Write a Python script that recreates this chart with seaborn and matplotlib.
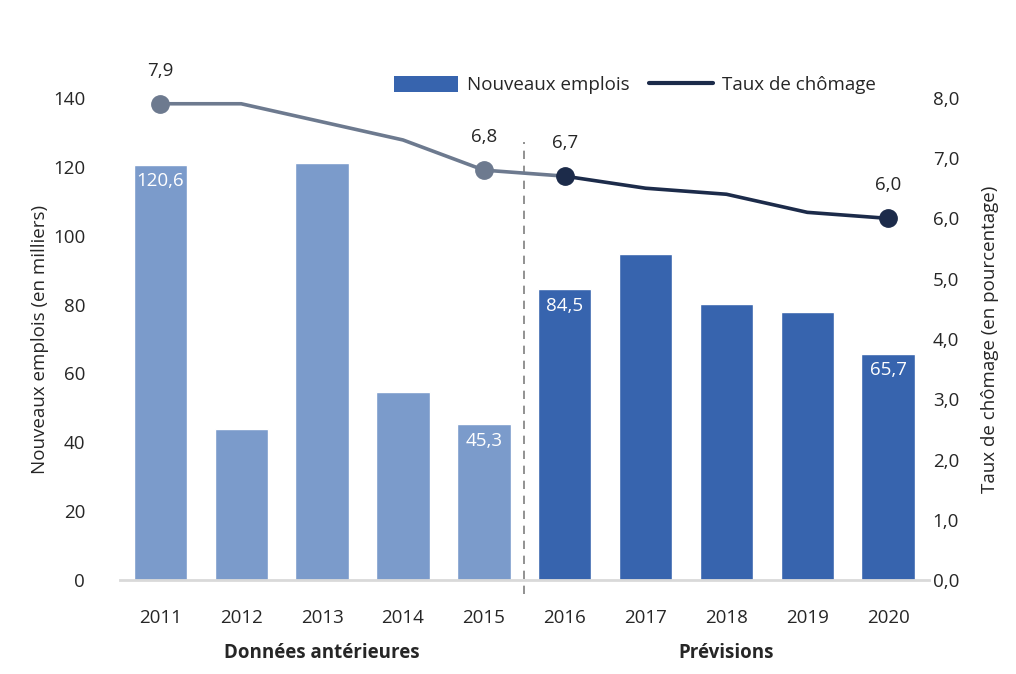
import numpy as np
import pandas as pd
import matplotlib
matplotlib.use("Agg")
import matplotlib.pyplot as plt
from matplotlib.patches import Patch
from matplotlib.lines import Line2D
import seaborn as sns

# Data
annees = ["2011", "2012", "2013", "2014", "2015", "2016", "2017", "2018", "2019", "2020"]
emplois = [120.6, 44.0, 121.2, 54.6, 45.3, 84.5, 94.6, 80.2, 77.8, 65.7]
taux = [7.9, 7.9, 7.6, 7.3, 6.8, 6.7, 6.5, 6.4, 6.1, 6.0]
periode = ["hist"] * 5 + ["prev"] * 5
bar_labels_idx = [0, 4, 5, 9]
line_labels_idx = [0, 4, 5, 9]

c_hist_bar = "#7B9BCB"
c_prev_bar = "#3764AE"
c_hist_line = "#6D7A8F"
c_prev_line = "#1C2B4A"

sns.set_style("white")
plt.rcParams["font.family"] = ["Open Sans", "DejaVu Sans"]

df = pd.DataFrame({"annee": annees, "emplois": emplois, "periode": periode})

fig = plt.figure(figsize=(10.16, 6.74), dpi=100)
ax = fig.add_axes([0.118, 0.139, 0.796, 0.716])

sns.barplot(data=df, x="annee", y="emplois", hue="periode",
            palette={"hist": c_hist_bar, "prev": c_prev_bar},
            dodge=False, width=0.66, legend=False, ax=ax, saturation=1)

ax.set_ylim(0, 140)
ax.set_xlim(-0.5, 9.5)
ax.set_yticks(np.arange(0, 141, 20))
ax.set_xlabel("")
ax.set_ylabel("Nouveaux emplois (en milliers)", fontsize=13.5, labelpad=3)
ax.tick_params(axis="both", length=0, labelsize=13.5)
ax.tick_params(axis="x", pad=21)
ax.tick_params(axis="y", pad=25)
for s in ["top", "left", "right"]:
    ax.spines[s].set_visible(False)
ax.spines["bottom"].set_color("#D9D9D9")
ax.spines["bottom"].set_linewidth(2)

# labels inside bars
for i in bar_labels_idx:
    ax.text(i, emplois[i] - 2.2, f"{emplois[i]:.1f}".replace(".", ","),
            ha="center", va="top", color="white", fontsize=13.5)

# dashed separator
ax.axvline(4.5, ymin=-0.028, ymax=0.908, color="#7F7F7F", linestyle=(0, (5, 4)),
           linewidth=1.2, clip_on=False)

# line on secondary axis
ax2 = ax.twinx()
x_pos = np.arange(len(annees))
sns.lineplot(x=x_pos[:6], y=taux[:6], ax=ax2, color=c_hist_line, linewidth=2.6)
sns.lineplot(x=x_pos[5:], y=taux[5:], ax=ax2, color=c_prev_line, linewidth=2.6)
for i in line_labels_idx:
    col = c_hist_line if i < 5 else c_prev_line
    ax2.plot(x_pos[i], taux[i], "o", color=col, markersize=12.5, clip_on=False, zorder=5)
    ax2.text(x_pos[i], taux[i] + 0.4, f"{taux[i]:.1f}".replace(".", ","),
             ha="center", va="bottom", fontsize=13.5, clip_on=False)

ax2.set_ylim(0, 8)
ax2.set_yticks(np.arange(0, 8.1, 1))
ax2.set_yticklabels([f"{v:.1f}".replace(".", ",") for v in np.arange(0, 8.1, 1)])
ax2.set_ylabel("Taux de chômage (en pourcentage)", fontsize=13.5, labelpad=16)
ax2.tick_params(axis="y", length=0, labelsize=13.5, pad=3)
for s in ["top", "left", "right", "bottom"]:
    ax2.spines[s].set_visible(False)

# group labels
ax.text(2, -0.15, "Données antérieures", transform=ax.get_xaxis_transform(),
        ha="center", va="center", fontsize=13.5, fontweight="bold")
ax.text(7, -0.15, "Prévisions", transform=ax.get_xaxis_transform(),
        ha="center", va="center", fontsize=13.5, fontweight="bold")

# legend
handles = [Patch(facecolor=c_prev_bar, edgecolor="none"),
           Line2D([0], [0], color=c_prev_line, linewidth=3)]
fig.legend(handles, ["Nouveaux emplois", "Taux de chômage"], loc="center",
           bbox_to_anchor=(0.625, 0.874), ncol=2, frameon=False, fontsize=13.5,
           handlelength=3.4, handleheight=1.0, columnspacing=1.0, handletextpad=0.5)

fig.savefig("out.png", dpi=100)
